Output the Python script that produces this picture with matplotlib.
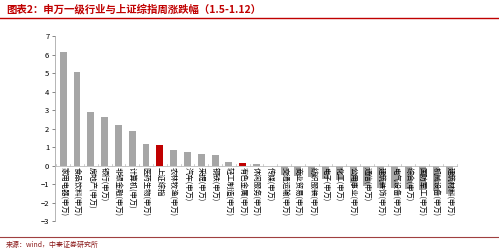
import matplotlib
matplotlib.use('Agg')
import matplotlib.pyplot as plt
import numpy as np

plt.rcParams['font.family'] = ['Noto Sans CJK SC', 'DejaVu Sans']

industries = ['家用电器(申万)', '食品饮料(申万)', '房地产(申万)', '银行(申万)', '非银金融(申万)',
              '计算机(申万)', '医药生物(申万)', '上证综指', '农林牧渔(申万)', '汽车(申万)',
              '采掘(申万)', '钢铁(申万)', '轻工制造(申万)', '有色金属(申万)', '休闲服务(申万)',
              '传媒(申万)', '交通运输(申万)', '商业贸易(申万)', '纺织服装(申万)', '电子(申万)',
              '化工(申万)', '公用事业(申万)', '通信(申万)', '建筑装饰(申万)', '电气设备(申万)',
              '综合(申万)', '国防军工(申万)', '机械设备(申万)', '建筑材料(申万)']
changes = [6.12, 5.03, 2.9, 2.61, 2.18, 1.85, 1.16, 1.1, 0.84, 0.72,
           0.62, 0.55, 0.21, 0.12, 0.08, -0.05, -0.5, -0.55, -0.6, -0.75,
           -0.78, -0.95, -1.1, -1.2, -1.22, -1.25, -1.3, -1.4, -1.55]
highlight = ['上证综指', '有色金属(申万)']

red = '#C00000'
gray = '#A6A6A6'

fig = plt.figure(figsize=(4.99, 2.52), dpi=100)
ax = fig.add_axes([0.110, 0.123, 0.808, 0.734])

x = np.arange(len(industries))
colors = [red if n in highlight else gray for n in industries]
ax.bar(x, changes, width=0.5, color=colors, zorder=2)

ax.set_ylim(-3, 7)
ax.set_xlim(-0.6, len(industries) - 0.4)
ax.set_yticks(range(-3, 8))
ax.tick_params(axis='y', labelsize=5.5, length=2, width=0.5, colors='#555555', pad=2)
ax.tick_params(axis='y', labelcolor='black')
ax.set_xticks([])
for s in ['top', 'right', 'bottom']:
    ax.spines[s].set_visible(False)
ax.spines['left'].set_color('#999999')
ax.spines['left'].set_linewidth(0.5)

ax.axhline(0, color='#BBBBBB', lw=0.6, zorder=3)
for b in np.arange(len(industries) + 1) - 0.5:
    ax.plot([b, b], [0, 0.08], color='#BBBBBB', lw=0.5, zorder=3)

for i, name in enumerate(industries):
    ax.text(i, -0.08, name, rotation=270, ha='center', va='top',
            fontsize=5.3, color='black', zorder=4)

# header / footer
fig.text(0.012, 0.965, '图表2：申万一级行业与上证综指周涨跌幅（1.5-1.12）', color=red,
         fontsize=7.5, fontweight='bold', style='italic', va='center', ha='left')
fig.add_artist(plt.Line2D([0.0, 1.0], [0.93, 0.93], color=red, lw=1.0))
fig.add_artist(plt.Line2D([0.0, 1.0], [0.06, 0.06], color='#A04040', lw=0.8))
fig.text(0.012, 0.028, '来源：wind，中泰证券研究所', color='#8B1A1A',
         fontsize=5, style='italic', va='center', ha='left')

fig.savefig('out.png', dpi=100, facecolor='white')
